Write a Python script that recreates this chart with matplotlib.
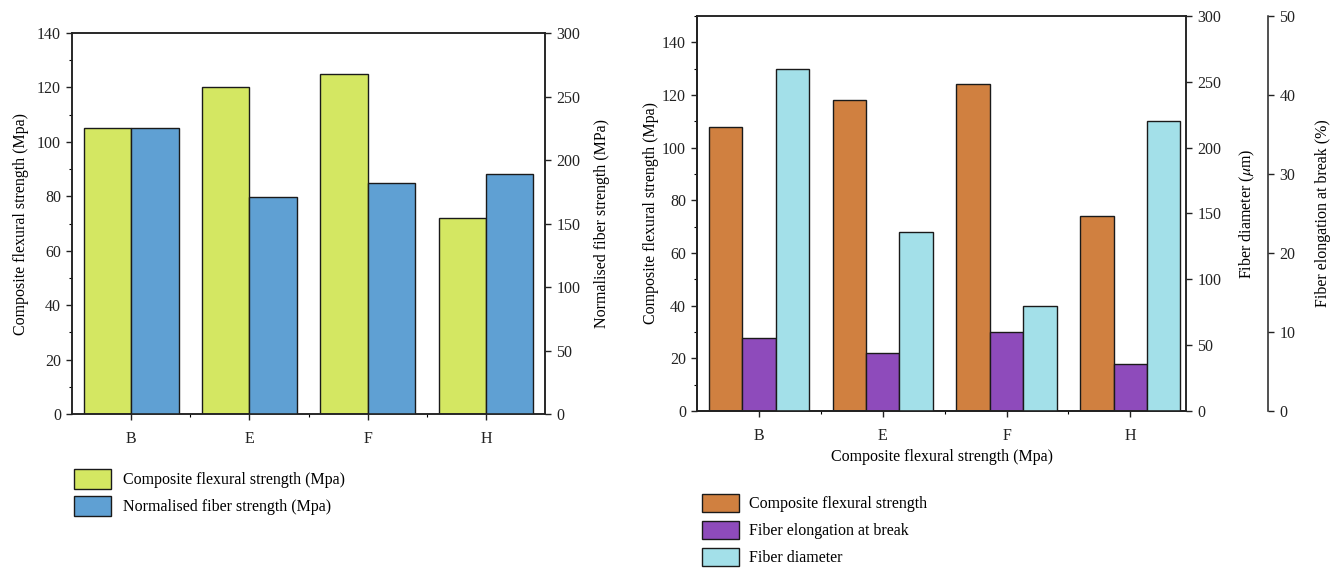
import numpy as np
import matplotlib
matplotlib.use('Agg')
import matplotlib.pyplot as plt
from matplotlib.ticker import MultipleLocator

plt.rcParams['font.family'] = ['Liberation Serif', 'DejaVu Serif']
plt.rcParams['mathtext.fontset'] = 'stix'

# data
samples = ['B', 'E', 'F', 'H']
composite_left = [105, 120, 125, 72]          # Mpa, left panel
normalised_fiber = [225, 171, 182, 189]       # MPa, left panel right axis
composite_right = [108, 118, 124, 74]         # Mpa, right panel
elongation = [9.3, 7.3, 10.0, 6.0]            # %
diameter = [260, 136, 80, 220]                # um

c_yellow = '#d4e762'
c_blue = '#5fa0d3'
c_orange = '#d08040'
c_purple = '#8e4bbb'
c_cyan = '#a3e0e9'
edge = '#1a1a1a'
fs = 11.5

fig = plt.figure(figsize=(13.42, 5.69), dpi=100)
x = np.arange(len(samples))


def style_axis(ax):
    ax.tick_params(direction='out', length=4, width=1, labelsize=fs, colors='#222222', pad=4)
    ax.tick_params(which='minor', direction='out', length=2.5, width=0.8)
    for s in ax.spines.values():
        s.set_linewidth(1.1)
        s.set_color('#222222')


# ---- left panel ----
ax1 = fig.add_axes([0.0537, 0.2724, 0.3525, 0.6696])
w = 0.4
b1 = ax1.bar(x - w / 2, composite_left, w, color=c_yellow, edgecolor=edge, linewidth=1, zorder=2)
ax1.set_xlim(-0.5, 3.5)
ax1.set_ylim(0, 140)
ax1.yaxis.set_major_locator(MultipleLocator(20))
ax1.yaxis.set_minor_locator(MultipleLocator(10))
ax1.set_xticks(x)
ax1.set_xticklabels(samples)
ax1.set_xticks(x[:-1] + 0.5, minor=True)
ax1.set_ylabel('Composite flexural strength (Mpa)', fontsize=fs, labelpad=6)
style_axis(ax1)
ax1.tick_params(axis='x', pad=8)

ax1b = ax1.twinx()
b2 = ax1b.bar(x + w / 2, normalised_fiber, w, color=c_blue, edgecolor=edge, linewidth=1, zorder=2)
ax1b.set_ylim(0, 300)
ax1b.yaxis.set_major_locator(MultipleLocator(50))
ax1b.set_ylabel('Normalised fiber strength (MPa)', fontsize=fs, labelpad=10)
style_axis(ax1b)

fig.legend([b1, b2], ['Composite flexural strength (Mpa)', 'Normalised fiber strength (Mpa)'],
           loc='upper left', bbox_to_anchor=(0.047, 0.195), frameon=False, fontsize=fs,
           handlelength=2.3, handleheight=1.55, labelspacing=0.4, handletextpad=0.75,
           borderaxespad=0.3)

# ---- right panel ----
ax2 = fig.add_axes([0.5194, 0.2777, 0.3644, 0.6942])
w3 = 0.27
r1 = ax2.bar(x - w3, composite_right, w3, color=c_orange, edgecolor=edge, linewidth=1, zorder=2)
ax2.set_xlim(-0.5, 3.45)
ax2.set_ylim(0, 150)
ax2.yaxis.set_major_locator(MultipleLocator(20))
ax2.yaxis.set_minor_locator(MultipleLocator(10))
ax2.set_xticks(x)
ax2.set_xticklabels(samples)
ax2.set_xticks(x[:-1] + 0.5, minor=True)
ax2.set_ylabel('Composite flexural strength (Mpa)', fontsize=fs, labelpad=2)
ax2.set_xlabel('Composite flexural strength (Mpa)', fontsize=fs, labelpad=4)
style_axis(ax2)
ax2.tick_params(axis='x', pad=8)

ax2e = ax2.twinx()
r2 = ax2e.bar(x, elongation, w3, color=c_purple, edgecolor=edge, linewidth=1, zorder=2)
ax2e.set_ylim(0, 50)
ax2e.yaxis.set_major_locator(MultipleLocator(10))
ax2e.spines['right'].set_position(('axes', 1.168))
ax2e.spines['top'].set_visible(False)
ax2e.set_ylabel('Fiber elongation at break (%)', fontsize=fs, labelpad=14)
style_axis(ax2e)

ax2d = ax2.twinx()
r3 = ax2d.bar(x + w3, diameter, w3, color=c_cyan, edgecolor=edge, linewidth=1, zorder=2)
ax2d.set_ylim(0, 300)
ax2d.yaxis.set_major_locator(MultipleLocator(50))
ax2d.set_ylabel(r'Fiber diameter ($\mu$m)', fontsize=fs, labelpad=12)
style_axis(ax2d)

fig.legend([r1, r2, r3], ['Composite flexural strength', 'Fiber elongation at break', 'Fiber diameter'],
           loc='upper left', bbox_to_anchor=(0.515, 0.152), frameon=False, fontsize=fs,
           handlelength=2.3, handleheight=1.35, labelspacing=0.55, handletextpad=0.6,
           borderaxespad=0.3)

fig.savefig('out.png', dpi=100)
